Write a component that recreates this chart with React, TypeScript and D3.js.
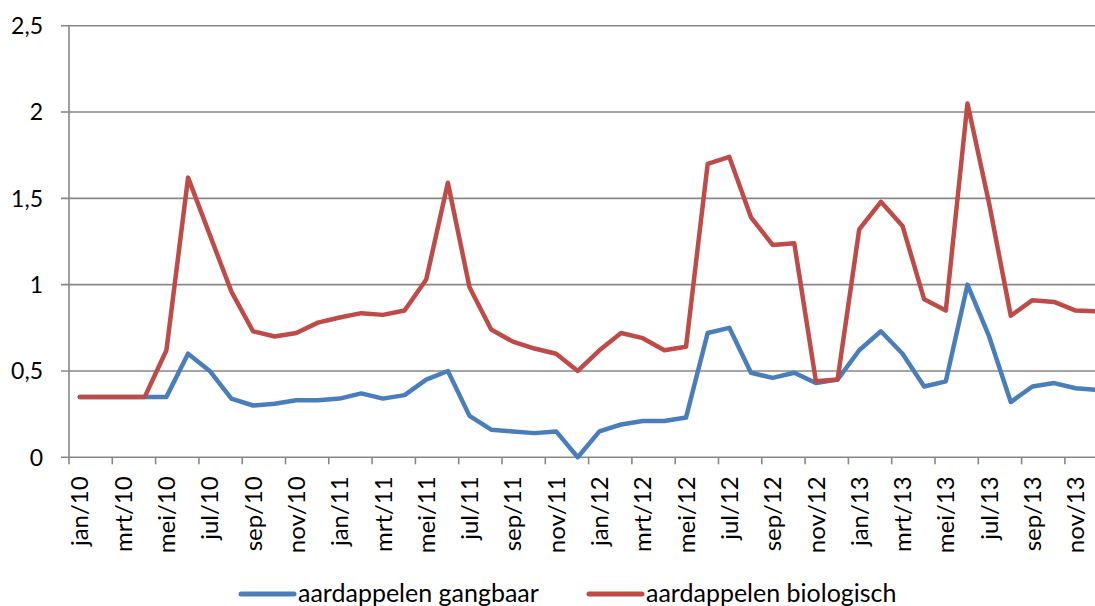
import React, { useEffect, useRef } from "react";
import * as d3 from "d3";

const monthNames = ["jan", "feb", "mrt", "apr", "mei", "jun", "jul", "aug", "sep", "okt", "nov", "dec"];
const years = ["10", "11", "12", "13"];
const months: string[] = years.flatMap((y) => monthNames.map((m) => `${m}/${y}`));

const gangbaar = [
  0.35, 0.35, 0.35, 0.35, 0.35, 0.6, 0.5, 0.34, 0.3, 0.31, 0.33, 0.33,
  0.34, 0.37, 0.34, 0.36, 0.45, 0.5, 0.24, 0.16, 0.15, 0.14, 0.15, 0.0,
  0.15, 0.19, 0.21, 0.21, 0.23, 0.72, 0.75, 0.49, 0.46, 0.49, 0.43, 0.45,
  0.62, 0.73, 0.6, 0.41, 0.44, 1.0, 0.7, 0.32, 0.41, 0.43, 0.4, 0.39,
];

const biologisch = [
  0.35, 0.35, 0.35, 0.35, 0.62, 1.62, 1.29, 0.96, 0.73, 0.7, 0.72, 0.78,
  0.81, 0.835, 0.825, 0.85, 1.03, 1.59, 0.985, 0.74, 0.67, 0.63, 0.6, 0.5,
  0.62, 0.72, 0.69, 0.62, 0.64, 1.7, 1.74, 1.39, 1.23, 1.24, 0.44, 0.45,
  1.32, 1.48, 1.34, 0.915, 0.85, 2.05, 1.47, 0.82, 0.91, 0.9, 0.85, 0.845,
];

const yTicks = [0, 0.5, 1, 1.5, 2, 2.5];

const series = [
  { name: "aardappelen gangbaar", values: gangbaar, color: "#4A7EBB" },
  { name: "aardappelen biologisch", values: biologisch, color: "#BE4B48" },
];

export default function App() {
  const svgRef = useRef<SVGSVGElement>(null);

  useEffect(() => {
    const width = 1095;
    const height = 606;
    const left = 69;
    const step = 21.65;
    const font = "Lato, 'Open Sans', sans-serif";

    const svg = d3.select(svgRef.current).attr("width", width).attr("height", height);
    svg.selectAll("*").remove();

    const x = d3.scaleBand<string>().domain(months).range([left, left + months.length * step]);
    const y = d3.scaleLinear().domain([0, 2.5]).range([457.3, 25.7]);

    // gridlines + y labels
    const grid = svg.append("g");
    grid.selectAll("line")
      .data(yTicks)
      .join("line")
      .attr("x1", left - 8)
      .attr("x2", width)
      .attr("y1", (d) => y(d))
      .attr("y2", (d) => y(d))
      .attr("stroke", "#878787")
      .attr("stroke-width", 1.6);

    grid.selectAll("text")
      .data(yTicks)
      .join("text")
      .attr("x", 43)
      .attr("y", (d) => y(d))
      .attr("dy", "0.36em")
      .attr("text-anchor", "end")
      .attr("font-family", font)
      .attr("font-size", 23)
      .attr("fill", "#000")
      .text((d) => d3.format(".1~f")(d).replace(".", ","));

    // y axis line
    svg.append("line")
      .attr("x1", left).attr("x2", left)
      .attr("y1", y(2.5)).attr("y2", y(0))
      .attr("stroke", "#878787").attr("stroke-width", 1.6);

    // x ticks every 2 months, at category boundaries
    const tickMonths = months.filter((_, i) => i % 2 === 0);
    svg.append("g").selectAll("line")
      .data(tickMonths)
      .join("line")
      .attr("x1", (d) => x(d)!)
      .attr("x2", (d) => x(d)!)
      .attr("y1", y(0))
      .attr("y2", y(0) + 7)
      .attr("stroke", "#878787")
      .attr("stroke-width", 1.6);

    // x labels rotated
    svg.append("g").selectAll("text")
      .data(tickMonths)
      .join("text")
      .attr("transform", (d) => `translate(${x(d)! + x.bandwidth() / 2},${y(0) + 19}) rotate(-90)`)
      .attr("dy", "0.36em")
      .attr("text-anchor", "end")
      .attr("font-family", font)
      .attr("font-size", 24)
      .attr("fill", "#000")
      .text((d) => d);

    // lines
    const line = d3.line<number>()
      .x((_, i) => x(months[i])! + x.bandwidth() / 2)
      .y((d) => y(d));

    svg.append("g").selectAll("path")
      .data(series)
      .join("path")
      .attr("d", (d) => line(d.values))
      .attr("fill", "none")
      .attr("stroke", (d) => d.color)
      .attr("stroke-width", 4.5)
      .attr("stroke-linejoin", "round")
      .attr("stroke-linecap", "round");

    // legend
    const legendX = [240, 588];
    const legend = svg.append("g").selectAll("g")
      .data(series)
      .join("g")
      .attr("transform", (_, i) => `translate(${legendX[i]},594)`);

    legend.append("line")
      .attr("x1", 1).attr("x2", 54)
      .attr("stroke", (d) => d.color)
      .attr("stroke-width", 5)
      .attr("stroke-linecap", "round");

    legend.append("text")
      .attr("x", 58)
      .attr("dy", "0.33em")
      .attr("font-family", font)
      .attr("font-size", 25)
      .attr("fill", "#000")
      .text((d) => d.name);
  }, []);

  return (
    <div style={{ position: "fixed", left: 0, top: 0, background: "#fff" }}>
      <svg ref={svgRef} style={{ display: "block" }}></svg>
    </div>
  );
}
